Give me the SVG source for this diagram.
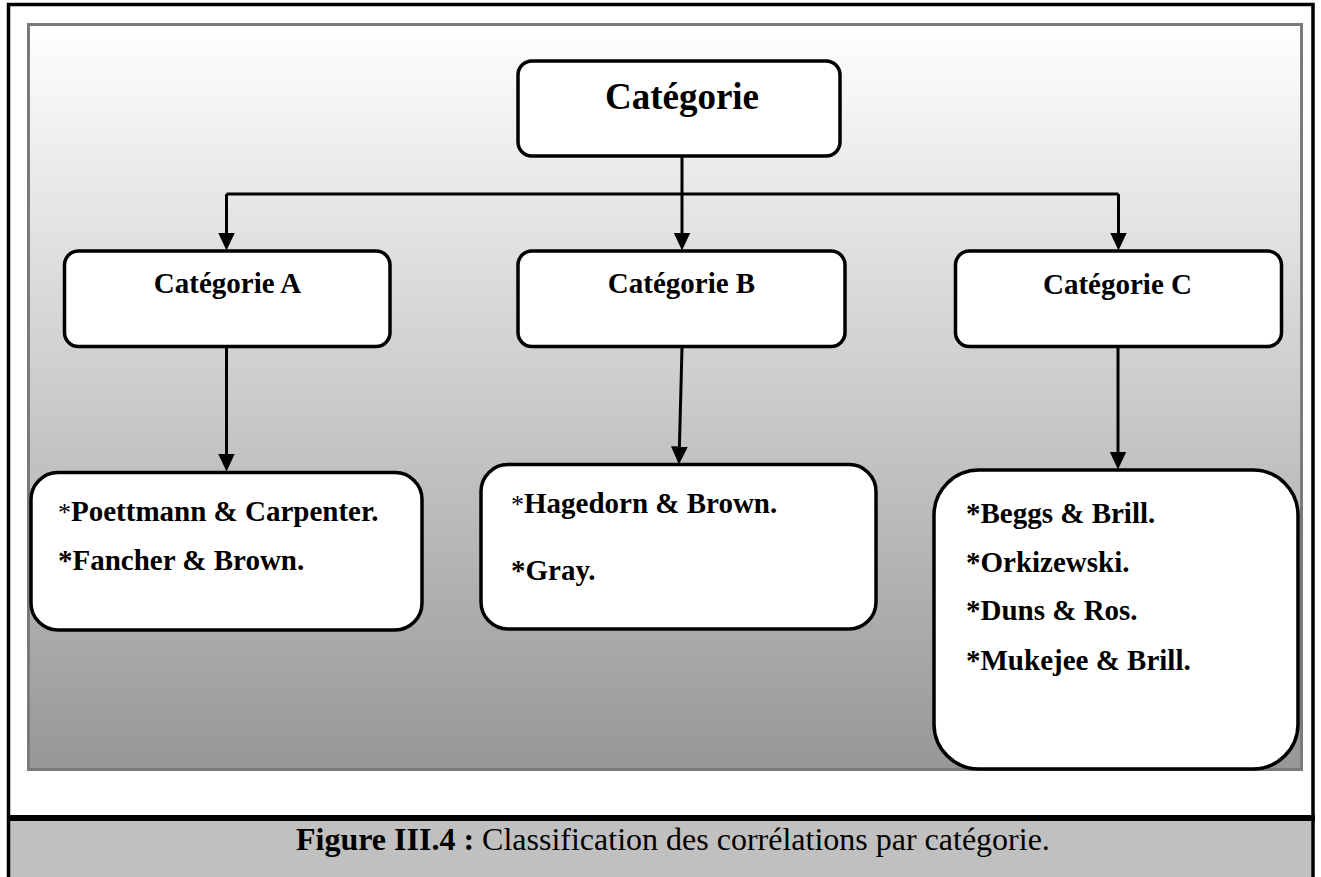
<svg xmlns="http://www.w3.org/2000/svg" width="1321" height="877" viewBox="0 0 1321 877">
<defs>
<linearGradient id="bg" x1="0" y1="0" x2="0" y2="1">
<stop offset="0" stop-color="#ffffff"/>
<stop offset="1" stop-color="#979797"/>
</linearGradient>
<marker id="ah" markerUnits="userSpaceOnUse" markerWidth="18" markerHeight="18" viewBox="0 0 16 16" refX="4" refY="8" orient="auto">
<path d="M0,0.5 L16,8 L0,15.5 z" fill="#000"/>
</marker>
<style>
.box{fill:#fff;stroke:#000;stroke-width:3.5}
.lbl{font-family:"Liberation Serif","Times New Roman",serif;font-weight:bold;fill:#000}
.con{fill:none;stroke:#000;stroke-width:3}
.arr{marker-end:url(#ah)}
</style>
</defs>
<rect x="0" y="0" width="1321" height="877" fill="#fff"/>
<rect x="28.5" y="24.5" width="1273" height="745" fill="url(#bg)" stroke="#7a7a7a" stroke-width="3"/>
<rect x="10" y="821" width="1301.5" height="56" fill="#c0c0c0"/>
<path d="M8.5,877 V4.5 H1313 V877" fill="none" stroke="#000" stroke-width="3.5"/>
<line x1="7" y1="818" x2="1315" y2="818" stroke="#000" stroke-width="6"/>
<text x="296" y="850" font-family="Liberation Serif,'Times New Roman',serif" font-size="32" fill="#000"><tspan font-weight="bold">Figure III.4 :</tspan> Classification des corrélations par catégorie.</text>
<g id="connectors">
<path class="con" d="M682,157 V194"/>
<path class="con" d="M226.5,194 H1118.5"/>
<path class="con arr" d="M226.5,194 V237"/>
<path class="con arr" d="M682,194 V237"/>
<path class="con arr" d="M1118.5,194 V237"/>
<path class="con arr" d="M226.5,348 V458"/>
<path class="con arr" d="M682,348 L679.3,451"/>
<path class="con arr" d="M1118,348 V456"/>
</g>
<g id="root">
<rect class="box" x="518" y="61" width="322" height="95" rx="14"/>
<text class="lbl" x="682" y="109" font-size="37" text-anchor="middle">Catégorie</text>
</g>
<g id="catA">
<rect class="box" x="64.5" y="251" width="325.5" height="95.5" rx="14"/>
<text class="lbl" x="227.5" y="293" font-size="29" text-anchor="middle">Catégorie A</text>
</g>
<g id="catB">
<rect class="box" x="518" y="251" width="327" height="95.5" rx="14"/>
<text class="lbl" x="681.5" y="293" font-size="29" text-anchor="middle">Catégorie B</text>
</g>
<g id="catC">
<rect class="box" x="955.5" y="251" width="326" height="95.5" rx="14"/>
<text class="lbl" x="1117.5" y="294" font-size="29" text-anchor="middle">Catégorie C</text>
</g>
<g id="listA">
<rect class="box" x="31" y="472.5" width="391" height="157.5" rx="27"/>
<text class="lbl" x="58" y="521" font-size="29"><tspan font-weight="normal" font-size="26">*</tspan>Poettmann &amp; Carpenter.</text>
<text class="lbl" x="58" y="570" font-size="29">*Fancher &amp; Brown.</text>
</g>
<g id="listB">
<rect class="box" x="481" y="464.5" width="395" height="164.5" rx="27"/>
<text class="lbl" x="511" y="513" font-size="29"><tspan font-weight="normal" font-size="26">*</tspan>Hagedorn &amp; Brown.</text>
<text class="lbl" x="511" y="580" font-size="29">*Gray.</text>
</g>
<g id="listC">
<rect class="box" x="934" y="470" width="364" height="299" rx="45"/>
<text class="lbl" x="966" y="523" font-size="29">*Beggs &amp; Brill.</text>
<text class="lbl" x="966" y="572" font-size="29">*Orkizewski.</text>
<text class="lbl" x="966" y="620" font-size="29">*Duns &amp; Ros.</text>
<text class="lbl" x="966" y="670" font-size="29">*Mukejee &amp; Brill.</text>
</g>
</svg>
